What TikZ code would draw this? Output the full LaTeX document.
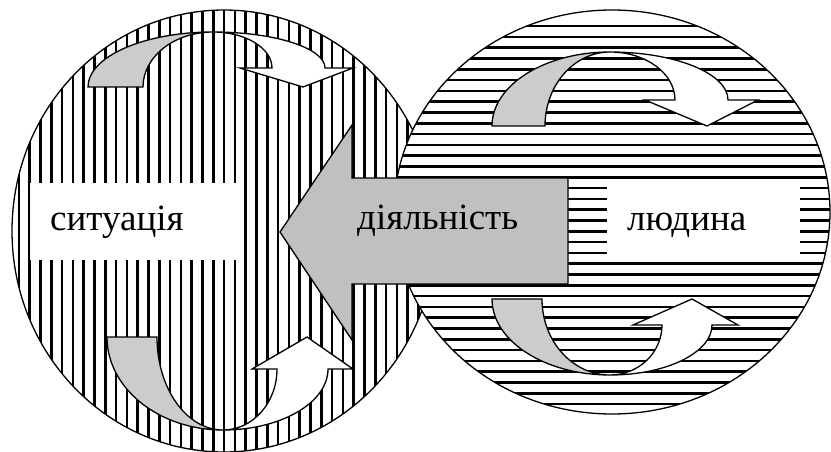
\documentclass[tikz,border=0pt]{standalone}
\usepackage{fontspec}
\setmainfont{Liberation Serif}
\newfontfamily\labelserif{Liberation Serif}
\definecolor{arrowgrey}{RGB}{192,192,192}
\definecolor{curvegrey}{RGB}{204,204,204}
\begin{document}
\begin{tikzpicture}[x=1pt,y=-1pt,
  stripe/.style={line width=2.5pt,black},
  outline/.style={line width=1.3pt,black,line join=miter},
  backpart/.style={outline,fill=curvegrey},
  frontpart/.style={outline,fill=white},
  bigarrow/.style={outline,fill=arrowgrey},
  whitebox/.style={fill=white,draw=none,inner sep=0pt,anchor=north west},
  lbl/.style={inner sep=0pt,anchor=base west,font=\labelserif\fontsize{37}{44}\selectfont}]
\useasboundingbox (0,0) rectangle (831,452);
% left circle, vertical stripes
\fill[white] (224,231) ellipse [x radius=212pt, y radius=221pt];
\begin{scope}
  \clip (224,231) ellipse [x radius=212pt, y radius=221pt];
  \foreach \i in {0,...,40} {
    \pgfmathsetmacro\xx{18.9+10.8*\i}
    \draw[stripe] (\xx,0) -- (\xx,452);
  }
\end{scope}
\draw[outline] (224,231) ellipse [x radius=212pt, y radius=221pt];
% right circle, horizontal stripes
\fill[white] (612,212) ellipse [x radius=218pt, y radius=202pt];
\begin{scope}
  \clip (612,212) ellipse [x radius=218pt, y radius=202pt];
  \foreach \i in {0,...,36} {
    \pgfmathsetmacro\yy{26.1+10.8*\i}
    \draw[stripe] (380,\yy) -- (831,\yy);
  }
\end{scope}
\draw[outline] (612,212) ellipse [x radius=218pt, y radius=202pt];
% text boxes
\node[whitebox, minimum width=207pt, minimum height=77pt] (sitbox) at (30,183) {};
\node[whitebox, minimum width=193pt, minimum height=74pt] (ludbox) at (607,183) {};
\node[lbl] (sit) at (50,230) {ситуація};
\node[lbl] (lud) at (627,230) {людина};
% top-left curved arrow
\draw[backpart] (88,87) .. controls (88,56.6) and (144,32) .. (213,32)
  .. controls (174.3,32) and (143,56.6) .. (143,87) -- cycle;
\draw[frontpart] (213,32) .. controls (274.9,32) and (325,48.1) .. (325,68)
  -- (353,68) -- (303,87) -- (240,68) -- (272,68)
  .. controls (272,48.1) and (245.6,32) .. (213,32) -- cycle;
% top-right curved arrow
\draw[backpart] (492,126) .. controls (492,85.1) and (544.8,52) .. (610,52)
  .. controls (574.1,52) and (545,85.1) .. (545,126) -- cycle;
\draw[frontpart] (610,52) .. controls (675.2,52) and (728,73.5) .. (728,100)
  -- (758,100) -- (707,126) -- (645,100) -- (675,100)
  .. controls (675,73.5) and (645.9,52) .. (610,52) -- cycle;
% bottom-left curved arrow
\draw[backpart] (107,337) .. controls (107,388.4) and (158.9,430) .. (223,430)
  .. controls (186.5,430) and (157,388.4) .. (157,337) -- cycle;
\draw[frontpart] (223,430) .. controls (281,430) and (328,402.7) .. (328,369)
  -- (353,369) -- (307,337) -- (252,369) -- (277,369)
  .. controls (277,402.7) and (252.8,430) .. (223,430) -- cycle;
% bottom-right curved arrow
\draw[backpart] (492,299) .. controls (492,341) and (544.8,375) .. (610,375)
  .. controls (572.4,375) and (542,341) .. (542,299) -- cycle;
\draw[frontpart] (610,375) .. controls (666.3,375) and (712,352.6) .. (712,325)
  -- (738,325) -- (692,299) -- (633,325) -- (662,325)
  .. controls (662,352.6) and (638.7,375) .. (610,375) -- cycle;
% big arrow
\draw[bigarrow] (568,178) -- (352,178) -- (352,125) -- (280,232) -- (352,340)
  -- (352,284) -- (568,284) -- cycle;
\node[lbl] (act) at (357,229) {діяльність};
\end{tikzpicture}
\end{document}
